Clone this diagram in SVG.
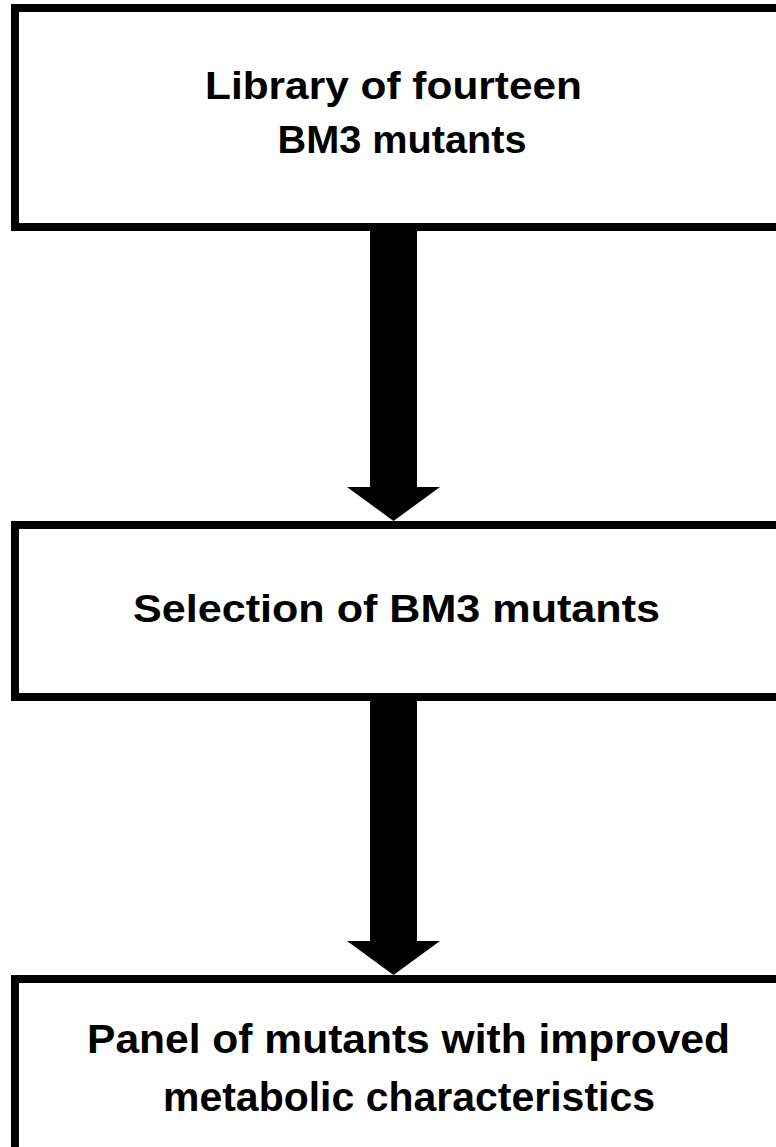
<svg xmlns="http://www.w3.org/2000/svg" width="776" height="1147" viewBox="0 0 776 1147">
<style>
.box{fill:#fff;stroke:#000;stroke-width:8}
.lbl{font-family:"Liberation Sans",Arial,sans-serif;font-weight:bold;font-size:39px;fill:#000;text-anchor:middle}
.big{font-size:41px}
.arr{fill:#000}
</style>
<rect width="776" height="1147" fill="#fff"/>
<g id="node1">
<rect class="box" x="15" y="8" width="800" height="219"/>
<text class="lbl" x="393.5" y="99" textLength="377" lengthAdjust="spacingAndGlyphs">Library of fourteen</text>
<text class="lbl" x="402" y="153" textLength="249" lengthAdjust="spacingAndGlyphs">BM3 mutants</text>
</g>
<g id="node2">
<rect class="box" x="15" y="525" width="800" height="172"/>
<text class="lbl" x="396.5" y="622" textLength="527" lengthAdjust="spacingAndGlyphs">Selection of BM3 mutants</text>
</g>
<g id="node3">
<rect class="box" x="15" y="979" width="800" height="200"/>
<text class="lbl big" x="408.5" y="1053" textLength="643" lengthAdjust="spacingAndGlyphs">Panel of  mutants with improved</text>
<text class="lbl big" x="409" y="1111" textLength="492" lengthAdjust="spacingAndGlyphs">metabolic characteristics</text>
</g>
<g id="connectors">
<polygon class="arr" points="370,231 417,231 417,487 440,487 393.5,521 347,487 370,487"/>
<polygon class="arr" points="370,701 417,701 417,941 440,941 393.5,975 347,941 370,941"/>
</g>
</svg>
